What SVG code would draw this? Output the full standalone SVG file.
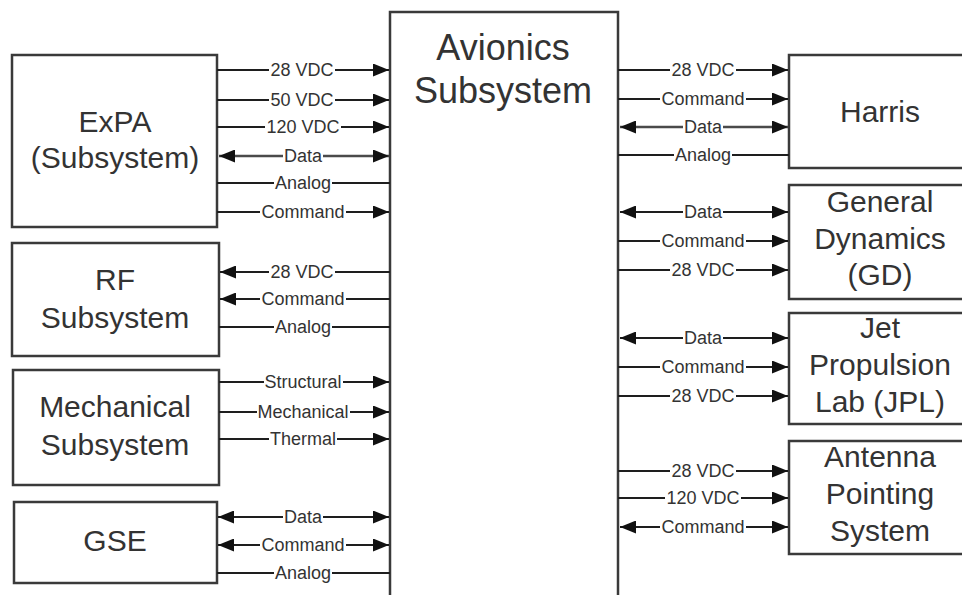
<svg xmlns="http://www.w3.org/2000/svg" width="962" height="595" viewBox="0 0 962 595">
<style>
.box{fill:#fff;stroke:#3a3a3a;stroke-width:2.5}
.title{font-family:"Liberation Sans",Arial,sans-serif;font-size:30px;fill:#333;text-anchor:middle}
.big{font-size:36px}
.ln{stroke:#1e1e1e;stroke-width:2;fill:none}
.dl{stroke:#4a4a4a;stroke-width:2.6;fill:none}
.bg{fill:#fff}
.lbl{font-family:"Liberation Sans",Arial,sans-serif;font-size:18px;fill:#333;text-anchor:middle}
</style>
<defs>
<marker id="ah" markerUnits="userSpaceOnUse" markerWidth="16" markerHeight="13" refX="16" refY="6.5" orient="auto-start-reverse">
<path d="M0,0 L16,6.5 L0,13 Z" fill="#111"/>
</marker>
</defs>
<rect width="962" height="595" fill="#fff"/>

<g id="avionics">
<rect class="box" x="390" y="12" width="228" height="600"/>
<text class="title big" x="503" y="60">Avionics</text>
<text class="title big" x="503" y="103">Subsystem</text>
</g>

<g id="expa">
<rect class="box" x="12" y="55" width="205" height="172"/>
<text class="title" x="115" y="132">ExPA</text>
<text class="title" x="115" y="168">(Subsystem)</text>
</g>
<g id="rf">
<rect class="box" x="12" y="243" width="207" height="113"/>
<text class="title" x="115" y="290">RF</text>
<text class="title" x="115" y="328">Subsystem</text>
</g>
<g id="mechanical">
<rect class="box" x="13" y="370" width="206" height="115"/>
<text class="title" x="115" y="417">Mechanical</text>
<text class="title" x="115" y="455">Subsystem</text>
</g>
<g id="gse">
<rect class="box" x="14" y="502" width="203" height="81"/>
<text class="title" x="115" y="551">GSE</text>
</g>

<g id="harris">
<rect class="box" x="789" y="55" width="200" height="113"/>
<text class="title" x="880" y="122">Harris</text>
</g>
<g id="gd">
<rect class="box" x="789" y="185" width="200" height="114"/>
<text class="title" x="880" y="212">General</text>
<text class="title" x="880" y="249">Dynamics</text>
<text class="title" x="880" y="285">(GD)</text>
</g>
<g id="jpl">
<rect class="box" x="789" y="313" width="200" height="111"/>
<text class="title" x="880" y="338">Jet</text>
<text class="title" x="880" y="375">Propulsion</text>
<text class="title" x="880" y="412">Lab (JPL)</text>
</g>
<g id="aps">
<rect class="box" x="789" y="441" width="200" height="113"/>
<text class="title" x="880" y="467">Antenna</text>
<text class="title" x="880" y="504">Pointing</text>
<text class="title" x="880" y="541">System</text>
</g>

<g id="connectors">
<!-- ExPA -->
<line class="ln" x1="217" y1="70" x2="389" y2="70" marker-end="url(#ah)"/>
<line class="ln" x1="217" y1="100" x2="389" y2="100" marker-end="url(#ah)"/>
<line class="ln" x1="217" y1="127" x2="389" y2="127" marker-end="url(#ah)"/>
<line class="dl" x1="219" y1="156" x2="389" y2="156" marker-start="url(#ah)" marker-end="url(#ah)"/>
<line class="ln" x1="217" y1="183" x2="390" y2="183"/>
<line class="ln" x1="217" y1="212" x2="389" y2="212" marker-end="url(#ah)"/>
<!-- RF -->
<line class="ln" x1="220" y1="272" x2="390" y2="272" marker-start="url(#ah)"/>
<line class="ln" x1="220" y1="299" x2="390" y2="299" marker-start="url(#ah)"/>
<line class="ln" x1="219" y1="327" x2="390" y2="327"/>
<!-- Mechanical -->
<line class="ln" x1="219" y1="382" x2="389" y2="382" marker-end="url(#ah)"/>
<line class="ln" x1="219" y1="412" x2="389" y2="412" marker-end="url(#ah)"/>
<line class="ln" x1="219" y1="439" x2="389" y2="439" marker-end="url(#ah)"/>
<!-- GSE -->
<line class="ln" x1="218" y1="517" x2="389" y2="517" marker-start="url(#ah)" marker-end="url(#ah)"/>
<line class="ln" x1="218" y1="545" x2="389" y2="545" marker-start="url(#ah)" marker-end="url(#ah)"/>
<line class="ln" x1="217" y1="573" x2="390" y2="573"/>
<!-- Harris -->
<line class="ln" x1="618" y1="70" x2="788" y2="70" marker-end="url(#ah)"/>
<line class="ln" x1="618" y1="99" x2="788" y2="99" marker-end="url(#ah)"/>
<line class="dl" x1="620" y1="127" x2="788" y2="127" marker-start="url(#ah)" marker-end="url(#ah)"/>
<line class="ln" x1="618" y1="155" x2="789" y2="155"/>
<!-- GD -->
<line class="ln" x1="620" y1="212" x2="788" y2="212" marker-start="url(#ah)" marker-end="url(#ah)"/>
<line class="ln" x1="618" y1="241" x2="788" y2="241" marker-end="url(#ah)"/>
<line class="ln" x1="618" y1="270" x2="788" y2="270" marker-end="url(#ah)"/>
<!-- JPL -->
<line class="ln" x1="620" y1="338" x2="788" y2="338" marker-start="url(#ah)" marker-end="url(#ah)"/>
<line class="ln" x1="618" y1="367" x2="788" y2="367" marker-end="url(#ah)"/>
<line class="ln" x1="618" y1="396" x2="788" y2="396" marker-end="url(#ah)"/>
<!-- Antenna -->
<line class="ln" x1="618" y1="471" x2="788" y2="471" marker-end="url(#ah)"/>
<line class="ln" x1="618" y1="498" x2="788" y2="498" marker-end="url(#ah)"/>
<line class="ln" x1="620" y1="527" x2="788" y2="527" marker-start="url(#ah)" marker-end="url(#ah)"/>

<!-- label backgrounds -->
<rect class="bg" x="269" y="63" width="66" height="14"/>
<rect class="bg" x="269" y="93" width="66" height="14"/>
<rect class="bg" x="265" y="120" width="76" height="14"/>
<rect class="bg" x="283" y="149" width="40" height="14"/>
<rect class="bg" x="274" y="176" width="58" height="14"/>
<rect class="bg" x="260" y="205" width="86" height="14"/>
<rect class="bg" x="269" y="265" width="66" height="14"/>
<rect class="bg" x="260" y="292" width="86" height="14"/>
<rect class="bg" x="274" y="320" width="58" height="14"/>
<rect class="bg" x="264" y="375" width="79" height="14"/>
<rect class="bg" x="257" y="405" width="93" height="14"/>
<rect class="bg" x="269" y="432" width="68" height="14"/>
<rect class="bg" x="283" y="510" width="40" height="14"/>
<rect class="bg" x="260" y="538" width="86" height="14"/>
<rect class="bg" x="274" y="566" width="58" height="14"/>

<rect class="bg" x="670" y="63" width="66" height="14"/>
<rect class="bg" x="660" y="92" width="86" height="14"/>
<rect class="bg" x="683" y="120" width="40" height="14"/>
<rect class="bg" x="674" y="148" width="58" height="14"/>
<rect class="bg" x="683" y="205" width="40" height="14"/>
<rect class="bg" x="660" y="234" width="86" height="14"/>
<rect class="bg" x="670" y="263" width="66" height="14"/>
<rect class="bg" x="683" y="331" width="40" height="14"/>
<rect class="bg" x="660" y="360" width="86" height="14"/>
<rect class="bg" x="670" y="389" width="66" height="14"/>
<rect class="bg" x="670" y="464" width="66" height="14"/>
<rect class="bg" x="665" y="491" width="76" height="14"/>
<rect class="bg" x="660" y="520" width="86" height="14"/>

<text class="lbl" x="302" y="76">28 VDC</text>
<text class="lbl" x="302" y="106">50 VDC</text>
<text class="lbl" x="303" y="133">120 VDC</text>
<text class="lbl" x="303" y="162">Data</text>
<text class="lbl" x="303" y="189">Analog</text>
<text class="lbl" x="303" y="218">Command</text>
<text class="lbl" x="302" y="278">28 VDC</text>
<text class="lbl" x="303" y="305">Command</text>
<text class="lbl" x="303" y="333">Analog</text>
<text class="lbl" x="303" y="388">Structural</text>
<text class="lbl" x="303" y="418">Mechanical</text>
<text class="lbl" x="303" y="445">Thermal</text>
<text class="lbl" x="303" y="523">Data</text>
<text class="lbl" x="303" y="551">Command</text>
<text class="lbl" x="303" y="579">Analog</text>

<text class="lbl" x="703" y="76">28 VDC</text>
<text class="lbl" x="703" y="105">Command</text>
<text class="lbl" x="703" y="133">Data</text>
<text class="lbl" x="703" y="161">Analog</text>
<text class="lbl" x="703" y="218">Data</text>
<text class="lbl" x="703" y="247">Command</text>
<text class="lbl" x="703" y="276">28 VDC</text>
<text class="lbl" x="703" y="344">Data</text>
<text class="lbl" x="703" y="373">Command</text>
<text class="lbl" x="703" y="402">28 VDC</text>
<text class="lbl" x="703" y="477">28 VDC</text>
<text class="lbl" x="703" y="504">120 VDC</text>
<text class="lbl" x="703" y="533">Command</text>
</g>
</svg>
